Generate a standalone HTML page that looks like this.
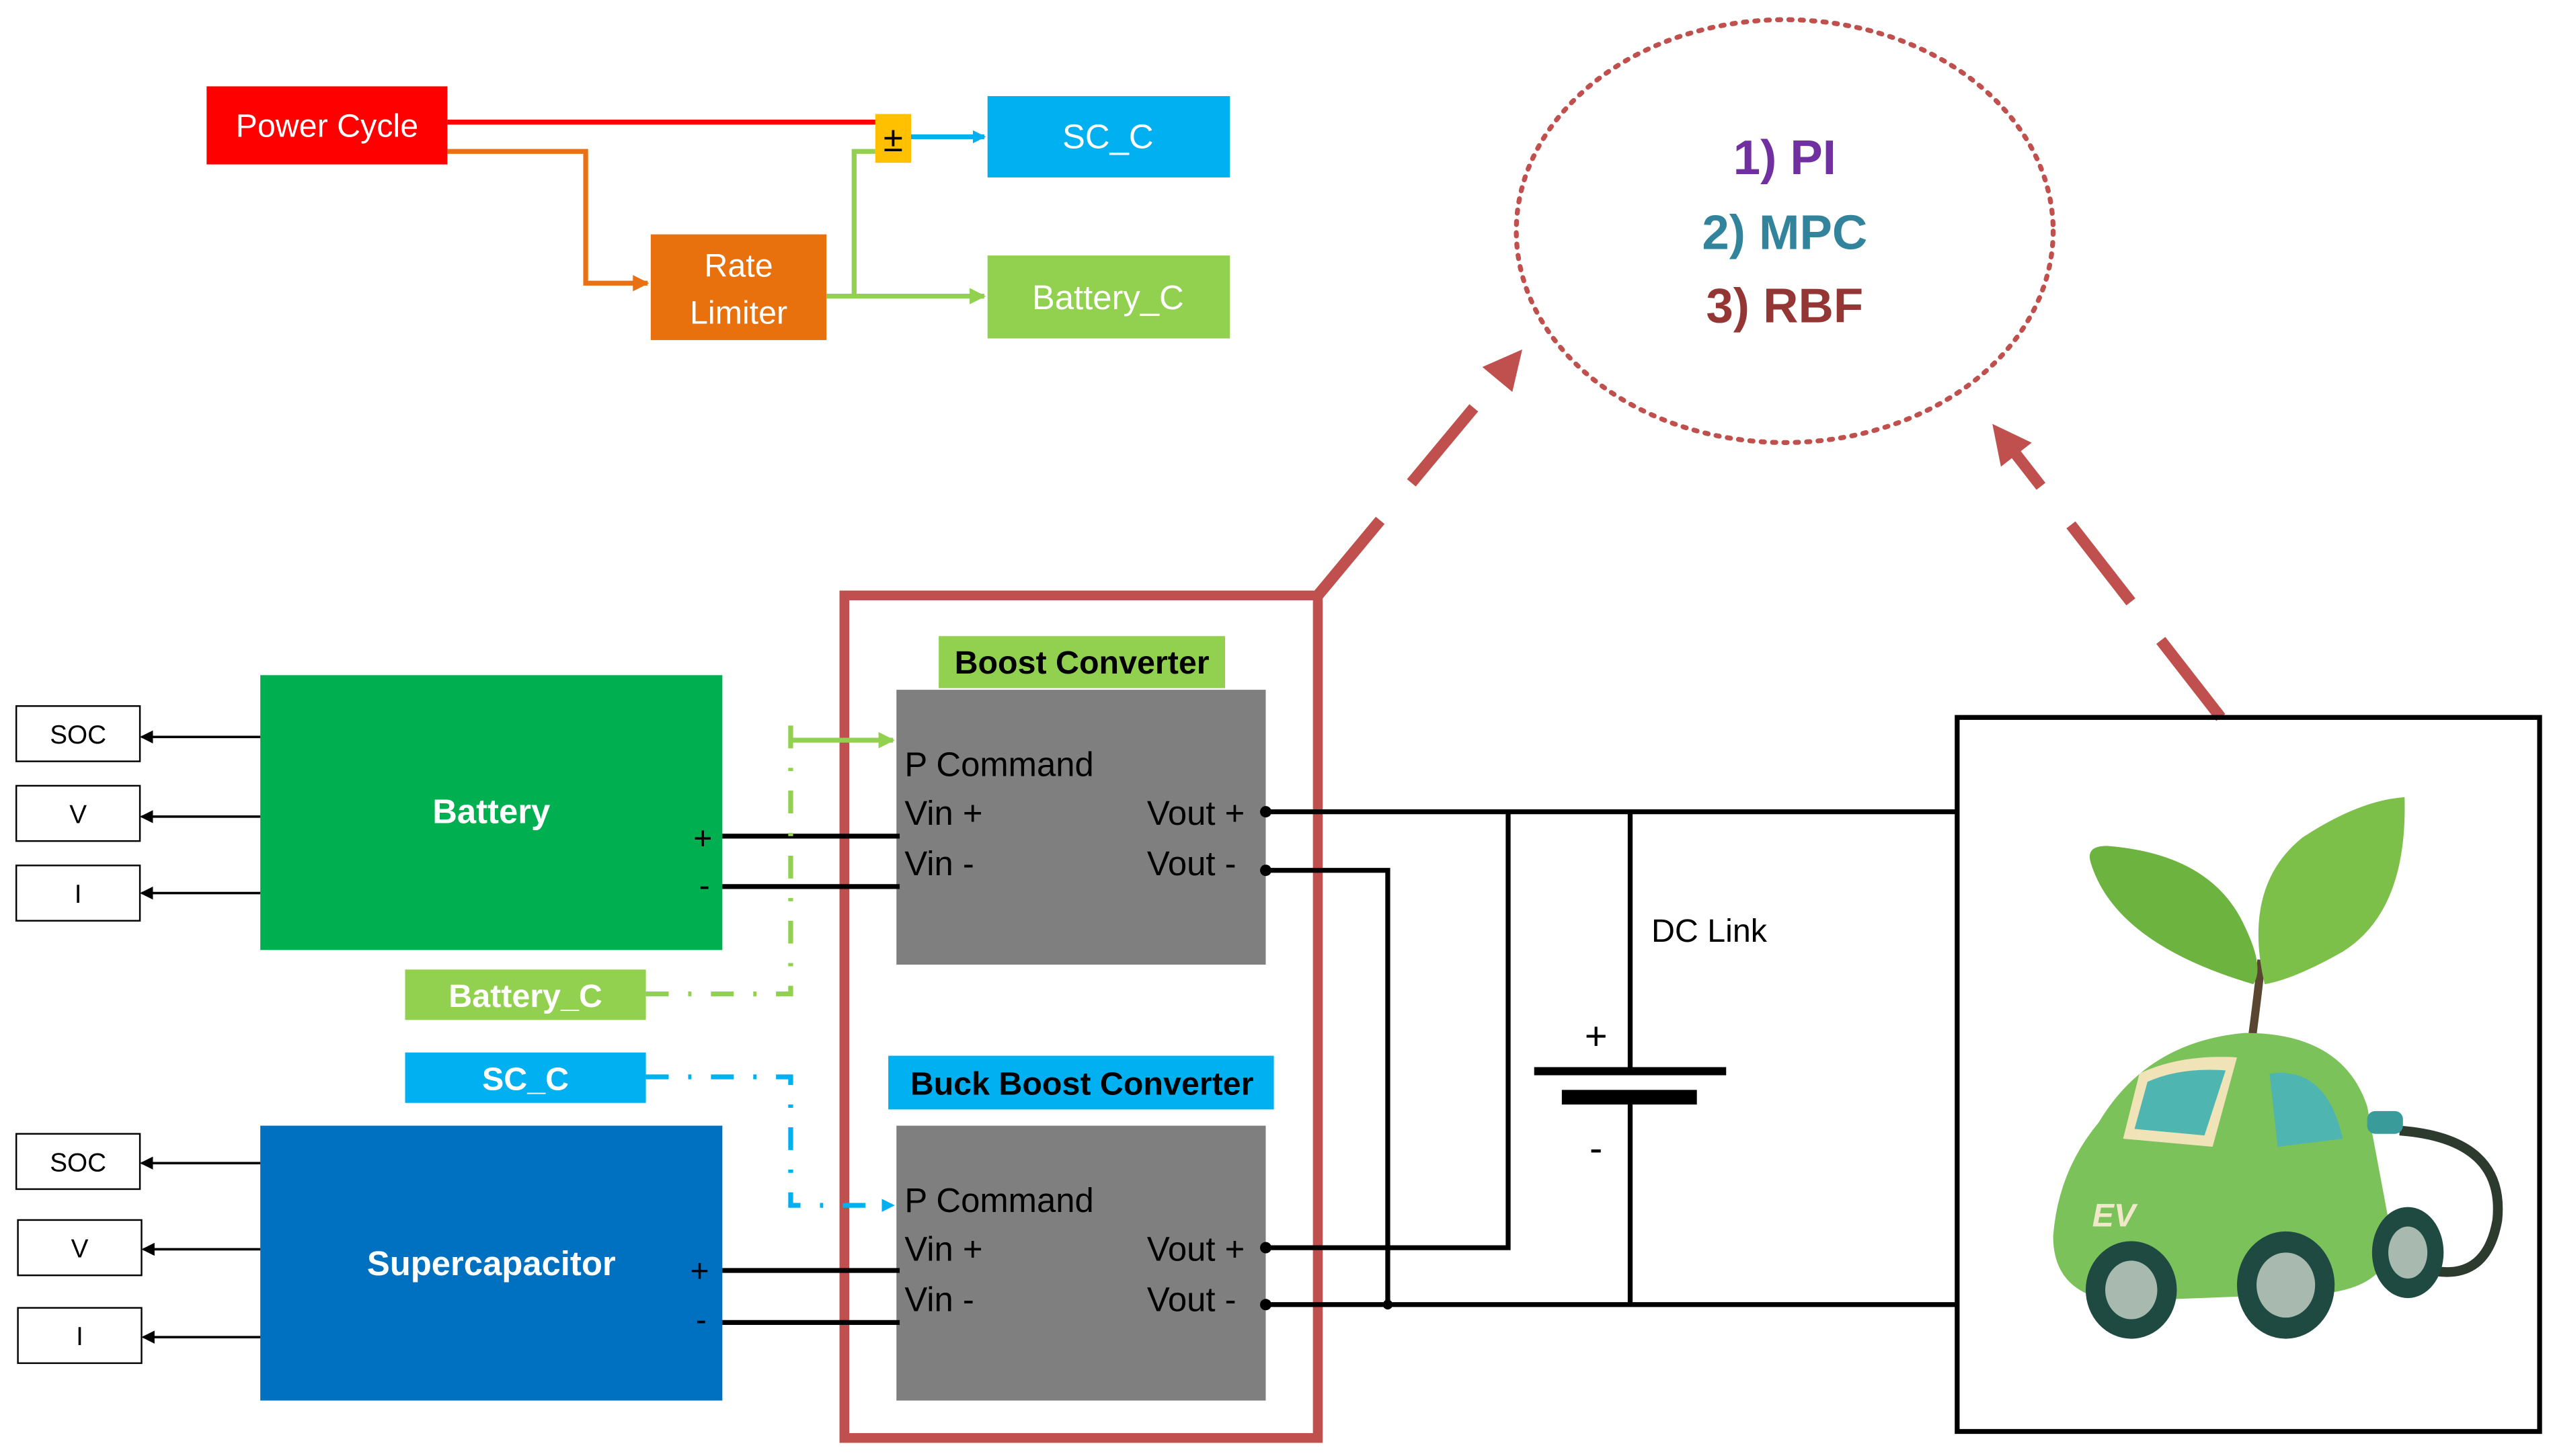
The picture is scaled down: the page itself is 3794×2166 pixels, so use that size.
<!DOCTYPE html>
<html><head><meta charset="utf-8"><style>
html,body{margin:0;padding:0;background:#fff;}
svg{display:block;}
text{font-family:"Liberation Sans",sans-serif;}
</style></head><body>
<svg width="3794" height="2166" viewBox="0 0 1568 895" xmlns="http://www.w3.org/2000/svg">
<defs>
<marker id="ab" markerWidth="8" markerHeight="8" refX="7" refY="4" orient="auto" markerUnits="userSpaceOnUse"><path d="M0,0 L8,4 L0,8 Z" fill="#00B0F0"/></marker>
<marker id="ao" markerWidth="10" markerHeight="10" refX="9" refY="5" orient="auto" markerUnits="userSpaceOnUse"><path d="M0,0 L10,5 L0,10 Z" fill="#E97113"/></marker>
<marker id="ag" markerWidth="10" markerHeight="10" refX="9" refY="5" orient="auto" markerUnits="userSpaceOnUse"><path d="M0,0 L10,5 L0,10 Z" fill="#92D050"/></marker>
<marker id="ak" markerWidth="8" markerHeight="8" refX="7" refY="4" orient="auto" markerUnits="userSpaceOnUse"><path d="M0,0 L8,4 L0,8 Z" fill="#000"/></marker>
<marker id="ar" markerWidth="24" markerHeight="24" refX="12" refY="12" orient="auto" markerUnits="userSpaceOnUse"><path d="M0,0 L24,12 L0,24 Z" fill="#C0504D"/></marker>
</defs>

<!-- top control -->
<rect x="127" y="53" width="148" height="48" fill="#FF0000"/>
<text x="201" y="84" font-size="20" fill="#fff" text-anchor="middle">Power Cycle</text>
<line x1="275" y1="75" x2="540" y2="75" stroke="#FF0000" stroke-width="3"/>
<polyline points="275,93 360,93 360,174 398,174" fill="none" stroke="#E97113" stroke-width="3" marker-end="url(#ao)"/>
<rect x="400" y="144" width="108" height="65" fill="#E8710E"/>
<text x="454" y="170" font-size="20" fill="#fff" text-anchor="middle">Rate</text>
<text x="454" y="199" font-size="20" fill="#fff" text-anchor="middle">Limiter</text>
<line x1="508" y1="182" x2="605" y2="182" stroke="#92D050" stroke-width="3" marker-end="url(#ag)"/>
<polyline points="525,182 525,93 538,93" fill="none" stroke="#92D050" stroke-width="3"/>
<rect x="538" y="70" width="22" height="30" fill="#FFC000"/>
<text x="549" y="93" font-size="22" fill="#000" text-anchor="middle">±</text>
<line x1="560" y1="84" x2="605" y2="84" stroke="#00B0F0" stroke-width="3" marker-end="url(#ab)"/>
<rect x="607" y="59" width="149" height="50" fill="#00B0F0"/>
<text x="681" y="91" font-size="21" fill="#fff" text-anchor="middle">SC_C</text>
<rect x="607" y="157" width="149" height="51" fill="#92D050"/>
<text x="681" y="190" font-size="21" fill="#fff" text-anchor="middle">Battery_C</text>

<!-- cloud -->
<ellipse cx="1097" cy="142" rx="165" ry="130" fill="none" stroke="#C0504D" stroke-width="3" stroke-dasharray="2,5" stroke-linecap="round"/>
<text x="1097" y="107" font-size="30" font-weight="bold" fill="#7030A0" text-anchor="middle">1) PI</text>
<text x="1097" y="153" font-size="30" font-weight="bold" fill="#31849B" text-anchor="middle">2) MPC</text>
<text x="1097" y="198" font-size="30" font-weight="bold" fill="#943634" text-anchor="middle">3) RBF</text>

<!-- dashed red arrows -->
<line x1="810" y1="366" x2="928" y2="224" stroke="#C0504D" stroke-width="7" stroke-dasharray="60,30" marker-end="url(#ar)"/>
<line x1="1365" y1="441" x2="1232" y2="270" stroke="#C0504D" stroke-width="7" stroke-dasharray="60,30" marker-end="url(#ar)"/>

<!-- red frame -->
<rect x="519" y="366" width="291" height="518" fill="none" stroke="#C0504D" stroke-width="6"/>

<!-- converters -->
<rect x="577" y="391" width="176" height="32" fill="#92D050"/>
<text x="665" y="414" font-size="20" font-weight="bold" fill="#000" text-anchor="middle">Boost Converter</text>
<rect x="551" y="424" width="227" height="169" fill="#7F7F7F"/>
<rect x="546" y="649" width="237" height="33" fill="#00B0F0"/>
<text x="665" y="673" font-size="20" font-weight="bold" fill="#000" text-anchor="middle">Buck Boost Converter</text>
<rect x="551" y="692" width="227" height="169" fill="#7F7F7F"/>
<g font-size="21" fill="#000">
<text x="556" y="477">P Command</text><text x="556" y="507">Vin +</text><text x="556" y="538">Vin -</text>
<text x="705" y="507">Vout +</text><text x="705" y="538">Vout -</text>
<text x="556" y="745">P Command</text><text x="556" y="775">Vin +</text><text x="556" y="806">Vin -</text>
<text x="705" y="775">Vout +</text><text x="705" y="806">Vout -</text>
</g>

<!-- sources -->
<rect x="160" y="415" width="284" height="169" fill="#00B050"/>
<text x="302" y="506" font-size="21" font-weight="bold" fill="#fff" text-anchor="middle">Battery</text>
<rect x="160" y="692" width="284" height="169" fill="#0070C0"/>
<text x="302" y="784" font-size="21" font-weight="bold" fill="#fff" text-anchor="middle">Supercapacitor</text>
<g fill="#fff" stroke="#000" stroke-width="1">
<rect x="10" y="434" width="76" height="34"/><rect x="10" y="483" width="76" height="34"/><rect x="10" y="532" width="76" height="34"/>
<rect x="10" y="697" width="76" height="34"/><rect x="11" y="750" width="76" height="34"/><rect x="11" y="804" width="76" height="34"/>
</g>
<g font-size="16" fill="#000" text-anchor="middle">
<text x="48" y="457">SOC</text><text x="48" y="506">V</text><text x="48" y="555">I</text>
<text x="48" y="720">SOC</text><text x="49" y="773">V</text><text x="49" y="827">I</text>
</g>
<g stroke="#000" stroke-width="1.5" marker-end="url(#ak)">
<line x1="160" y1="453" x2="87" y2="453"/><line x1="160" y1="502" x2="87" y2="502"/><line x1="160" y1="549" x2="87" y2="549"/>
<line x1="160" y1="715" x2="87" y2="715"/><line x1="160" y1="768" x2="88" y2="768"/><line x1="160" y1="822" x2="88" y2="822"/>
</g>
<g font-size="20" fill="#000" text-anchor="middle">
<text x="432" y="522">+</text><text x="433" y="551">-</text><text x="430" y="788">+</text><text x="431" y="818">-</text>
</g>
<g stroke="#000" stroke-width="3">
<line x1="444" y1="514" x2="553" y2="514"/><line x1="444" y1="545" x2="553" y2="545"/>
<line x1="444" y1="781" x2="553" y2="781"/><line x1="444" y1="813" x2="553" y2="813"/>
</g>

<!-- command labels -->
<rect x="249" y="596" width="148" height="31" fill="#92D050"/>
<text x="323" y="619" font-size="20" font-weight="bold" fill="#fff" text-anchor="middle">Battery_C</text>
<rect x="249" y="647" width="148" height="31" fill="#00B0F0"/>
<text x="323" y="670" font-size="20" font-weight="bold" fill="#fff" text-anchor="middle">SC_C</text>
<polyline points="397,611 486,611 486,440" fill="none" stroke="#92D050" stroke-width="3" stroke-dasharray="14,12,2,12"/>
<line x1="486" y1="455" x2="549" y2="455" stroke="#92D050" stroke-width="3" marker-end="url(#ag)"/>
<polyline points="397,662 486,662 486,741 549,741" fill="none" stroke="#00B0F0" stroke-width="3" stroke-dasharray="14,12,2,12" marker-end="url(#ab)"/>

<!-- right wiring -->
<g stroke="#000" stroke-width="3" fill="none">
<line x1="778" y1="499" x2="1203" y2="499"/>
<polyline points="778,535 853,535 853,802"/>
<polyline points="778,767 927,767 927,499"/>
<line x1="778" y1="802" x2="1203" y2="802"/>
<line x1="1002" y1="499" x2="1002" y2="658"/>
<line x1="1002" y1="674" x2="1002" y2="802"/>
</g>
<g fill="#000"><circle cx="778" cy="499" r="3.5"/><circle cx="778" cy="535" r="3.5"/><circle cx="778" cy="767" r="3.5"/><circle cx="778" cy="802" r="3.5"/><circle cx="853" cy="802" r="3"/></g>
<rect x="943" y="656" width="118" height="5" fill="#000"/>
<rect x="960" y="670" width="83" height="9" fill="#000"/>
<text x="981" y="645" font-size="24" text-anchor="middle">+</text>
<text x="981" y="714" font-size="24" text-anchor="middle">-</text>
<text x="1015" y="579" font-size="20" fill="#000">DC Link</text>

<!-- EV box -->
<rect x="1203" y="441" width="358" height="439" fill="none" stroke="#000" stroke-width="3"/>
<!-- car illustration -->
<path d="M1384,640 Q1388,610 1390,590" stroke="#5a4630" stroke-width="5" fill="none"/>
<path d="M1385,605 Q1300,580 1285,530 Q1282,520 1295,520 Q1360,525 1380,570 Q1392,595 1385,605 Z" fill="#6DB33F"/>
<path d="M1392,605 Q1378,545 1415,515 Q1450,492 1478,490 Q1480,560 1440,585 Q1410,602 1392,605 Z" fill="#7CC04A"/>
<path d="M1475,695 Q1540,700 1535,750 Q1528,790 1490,780" stroke="#2d3a2e" stroke-width="6" fill="none"/>
<path d="M1290,690 Q1320,640 1380,635 Q1440,635 1455,680 L1470,760 Q1470,790 1430,795 L1300,800 Q1262,795 1262,760 Q1265,720 1290,690 Z" fill="#7CC25A"/>
<path d="M1315,660 Q1340,648 1375,650 L1360,705 L1305,700 Z" fill="#F0E3B8"/>
<path d="M1320,665 Q1340,656 1368,658 L1355,698 L1312,694 Z" fill="#4FB5B0"/>
<path d="M1395,660 Q1430,655 1440,700 L1400,705 Z" fill="#4FB5B0"/>
<rect x="1455" y="683" width="22" height="14" rx="5" fill="#3A9C9A"/>
<text x="1286" y="754" font-size="20" font-weight="bold" font-style="italic" fill="#F0E8C8">EV</text>
<ellipse cx="1310" cy="793" rx="28" ry="30" fill="#1F4A42"/><ellipse cx="1310" cy="793" rx="16" ry="18" fill="#A8BAB0"/>
<ellipse cx="1405" cy="790" rx="30" ry="33" fill="#1F4A42"/><ellipse cx="1405" cy="790" rx="18" ry="20" fill="#A8BAB0"/>
<ellipse cx="1480" cy="770" rx="22" ry="28" fill="#1F4A42"/><ellipse cx="1480" cy="770" rx="12" ry="16" fill="#A8BAB0"/>
</svg>
</body></html>
